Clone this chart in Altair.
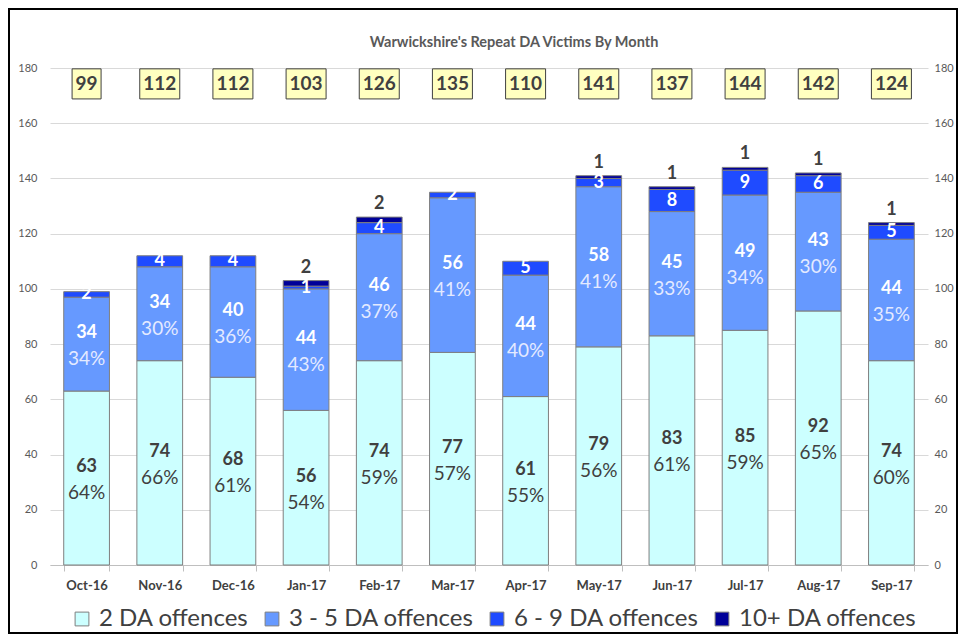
import altair as alt
import pandas as pd

months = ["Oct-16", "Nov-16", "Dec-16", "Jan-17", "Feb-17", "Mar-17",
          "Apr-17", "May-17", "Jun-17", "Jul-17", "Aug-17", "Sep-17"]
two_da = [63, 74, 68, 56, 74, 77, 61, 79, 83, 85, 92, 74]
three_five = [34, 34, 40, 44, 46, 56, 44, 58, 45, 49, 43, 44]
six_nine = [2, 4, 4, 1, 4, 2, 5, 3, 8, 9, 6, 5]
ten_plus = [0, 0, 0, 2, 2, 0, 0, 1, 1, 1, 1, 1]
series_names = ["2 DA offences", "3 - 5 DA offences", "6 - 9 DA offences", "10+ DA offences"]
colors = ["#CCFFFF", "#6699FF", "#1F4BFF", "#000099"]
y_ticks = list(range(0, 181, 20))
title_text = "Warwickshire's Repeat DA Victims By Month"

rows = []
tot_rows = []
for i, m in enumerate(months):
    vals = [two_da[i], three_five[i], six_nine[i], ten_plus[i]]
    total = sum(vals)
    tot_rows.append(dict(month=m, total=total))
    base = 0
    for k, (n, v) in enumerate(zip(series_names, vals)):
        rows.append(dict(month=m, series=n, order=k, value=v, y0=base, y1=base + v,
                         mid=base + v / 2, total=total,
                         pct=f"{int(100 * v / total + 0.5)}%"))
        base += v
df = pd.DataFrame(rows)
tot = pd.DataFrame(tot_rows)

FONT = "Lato"
W, H = 878, 497
PL, PT, PR, PB = 42, 60, 30, 69

xenc = alt.X("month:N", sort=months,
             scale=alt.Scale(paddingInner=0.375, paddingOuter=0.1875),
             axis=alt.Axis(title=None, labelFontWeight="bold", labelFontSize=13,
                           labelColor="#404040", labelAngle=0, domainColor="#BFBFBF",
                           tickColor="#BFBFBF", tickBand="extent", tickSize=6,
                           labelPadding=8, labelFont=FONT))
yscale = alt.Scale(domain=[0, 180], nice=False)

bars = alt.Chart(df).transform_filter("datum.value > 0").mark_bar(
    stroke="#7F7F7F", strokeWidth=1).encode(
    x=xenc,
    y=alt.Y("y0:Q", scale=yscale,
            axis=alt.Axis(title=None, values=y_ticks, labelFontSize=11, labelColor="#595959",
                          domain=False, ticks=False, gridColor="#D9D9D9", labelPadding=13,
                          labelFont=FONT)),
    y2="y1:Q",
    color=alt.Color("series:N", scale=alt.Scale(domain=series_names, range=colors),
                    legend=alt.Legend(title=None, orient="none", legendX=20, legendY=539,
                                      direction="horizontal", symbolType="square",
                                      symbolSize=190, symbolStrokeColor="#7F7F7F",
                                      symbolStrokeWidth=1, labelFontSize=24,
                                      labelColor="#404040", labelFont=FONT,
                                      labelLimit=400, columnPadding=11, labelOffset=5)),
)


def label(series, field, dy, color, weight, baseline="middle", yfield="mid:Q", extra="", size=18):
    flt = f"datum.series == '{series}'" + extra
    return alt.Chart(df).transform_filter(flt).mark_text(
        dy=dy, color=color, fontWeight=weight, fontSize=size, font=FONT, baseline=baseline).encode(
        x=alt.X("month:N", sort=months),
        y=alt.Y(yfield, scale=yscale, axis=None),
        text=field,
    )


l2v = label(series_names[0], "value:Q", -11, "#404040", "bold")
l2p = label(series_names[0], "pct:N", 15, "#404040", "normal", size=19)
l3v = label(series_names[1], "value:Q", -11, "#FFFFFF", "bold")
l3p = label(series_names[1], "pct:N", 15, "#E4EAFF", "normal", size=19)
l6 = label(series_names[2], "value:Q", 0, "#FFFFFF", "bold", extra=" && datum.value > 0")
l10 = label(series_names[3], "value:Q", -4, "#404040", "bold", baseline="bottom",
            yfield="y1:Q", extra=" && datum.value > 0")

boxes = alt.Chart(tot).transform_calculate(
    boxw="length(toString(datum.total)) * 11 + 7").mark_bar(
    fill="#FFFFC0", stroke="#404040", strokeWidth=1).encode(
    x=alt.X("month:N", sort=months),
    y=alt.Y(datum=168.8, scale=yscale, axis=None),
    y2=alt.Y2(datum=179.7),
    size=alt.Size("boxw:Q", scale=None),
)
box_text = alt.Chart(tot).mark_text(fontSize=19, fontWeight="bold", color="#404040",
                                    font=FONT, baseline="middle").encode(
    x=alt.X("month:N", sort=months),
    y=alt.Y(datum=174.2, scale=yscale, axis=None),
    text="total:Q",
)

right_axis = alt.Chart(tot).mark_tick(opacity=0).encode(
    x=alt.X("month:N", sort=months),
    y=alt.Y("total:Q", scale=yscale,
            axis=alt.Axis(title=None, orient="right", values=y_ticks, labelFontSize=11,
                          labelColor="#595959", domain=False, ticks=False, grid=False,
                          labelPadding=6, labelFont=FONT)),
)

title = alt.Chart(pd.DataFrame({"t": [title_text]})).mark_text(
    fontSize=14.5, fontWeight="bold", color="#595959", font=FONT, baseline="middle").encode(
    x=alt.value(W / 2 + 25), y=alt.value(-25), text="t:N")

border = alt.Chart(pd.DataFrame({"a": [0]})).mark_rect(
    fillOpacity=0, stroke="#000000", strokeWidth=2).encode(
    x=alt.value(-PL + 1), x2=alt.value(W + PR - 1),
    y=alt.value(-PT + 1), y2=alt.value(H + PB - 1))

chart = alt.layer(bars, l2v, l2p, l3v, l3p, l6, l10, boxes, box_text, right_axis,
                  title, border).resolve_axis(
    y="independent").properties(
    width=W, height=H,
    autosize=alt.AutoSizeParams(type="none"),
    padding={"left": PL, "top": PT, "right": PR, "bottom": PB},
).configure_view(stroke=None)

chart.save("out.html", embed_options={"renderer": "svg", "actions": False})
